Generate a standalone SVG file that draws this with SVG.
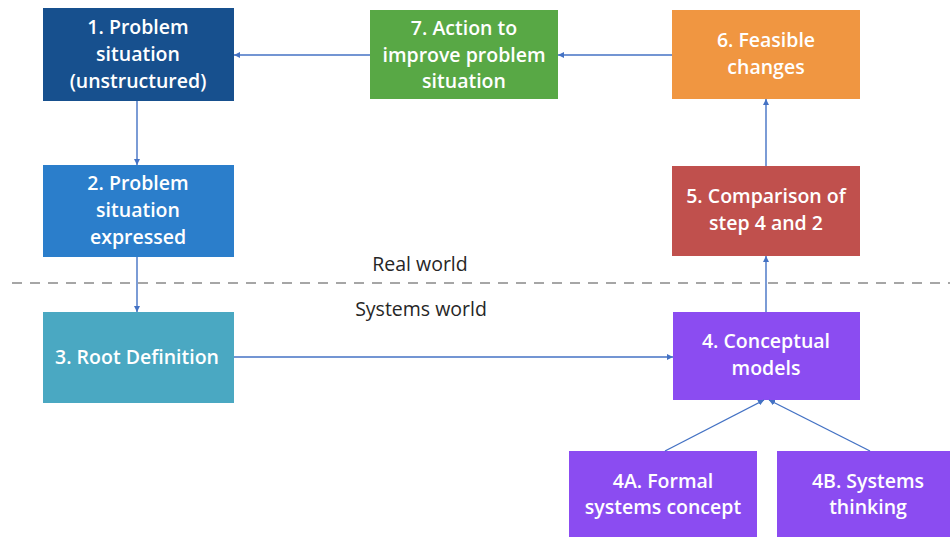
<svg xmlns="http://www.w3.org/2000/svg" width="950" height="537" viewBox="0 0 950 537">
<defs>
<marker id="ah" viewBox="0 0 10 10" refX="10" refY="5" markerWidth="6" markerHeight="6" orient="auto" markerUnits="userSpaceOnUse">
<path d="M0,0 L10,5 L0,10 z" fill="#4472c4"/>
</marker>
</defs>
<style>
.box{stroke:none}
.t{font-family:"Open Sans","Liberation Sans",sans-serif;font-size:19.5px;font-weight:600;fill:#ffffff;text-anchor:middle}
.lbl{font-family:"Open Sans","Liberation Sans",sans-serif;font-size:19.5px;fill:#262626;text-anchor:middle}
.c{stroke:#4472c4;stroke-width:1.4;fill:none;marker-end:url(#ah)}
</style>
<rect width="950" height="537" fill="#ffffff"/>
<line x1="12" y1="283" x2="950" y2="283" stroke="#a6a6a6" stroke-width="2" stroke-dasharray="10,8"/>
<text class="lbl" x="420" y="271">Real world</text>
<text class="lbl" x="421" y="316">Systems world</text>
<g id="n1"><rect class="box" x="43" y="8" width="191" height="93" fill="#17508e"/>
<text class="t" x="138" y="34">1. Problem</text><text class="t" x="138" y="61">situation</text><text class="t" x="138" y="88">(unstructured)</text></g>
<g id="n2"><rect class="box" x="43" y="165" width="191" height="92" fill="#2b7ecb"/>
<text class="t" x="138" y="190">2. Problem</text><text class="t" x="138" y="217">situation</text><text class="t" x="138" y="244">expressed</text></g>
<g id="n3"><rect class="box" x="43" y="312" width="191" height="91" fill="#4aa8c2"/>
<text class="t" x="137" y="364">3. Root Definition</text></g>
<g id="n7"><rect class="box" x="370" y="10" width="188" height="89" fill="#58a845"/>
<text class="t" x="464" y="35">7. Action to</text><text class="t" x="464" y="62">improve problem</text><text class="t" x="464" y="88">situation</text></g>
<g id="n6"><rect class="box" x="672" y="10" width="188" height="89" fill="#f09641"/>
<text class="t" x="766" y="47">6. Feasible</text><text class="t" x="766" y="74">changes</text></g>
<g id="n5"><rect class="box" x="672" y="166" width="188" height="90" fill="#c0504d"/>
<text class="t" x="766" y="203">5. Comparison of</text><text class="t" x="766" y="230">step 4 and 2</text></g>
<g id="n4"><rect class="box" x="673" y="312" width="187" height="88" fill="#8b4cf1"/>
<text class="t" x="766" y="348">4. Conceptual</text><text class="t" x="766" y="375">models</text></g>
<g id="n4a"><rect class="box" x="569" y="451" width="188" height="90" fill="#8b4cf1"/>
<text class="t" x="663" y="488">4A. Formal</text><text class="t" x="663" y="514">systems concept</text></g>
<g id="n4b"><rect class="box" x="777" y="451" width="180" height="90" fill="#8b4cf1"/>
<text class="t" x="868" y="488">4B. Systems</text><text class="t" x="868" y="514">thinking</text></g>
<g id="connectors">
<line class="c" x1="137" y1="101" x2="137" y2="165"/>
<line class="c" x1="137" y1="257" x2="137" y2="312"/>
<line class="c" x1="370" y1="55" x2="234" y2="55"/>
<line class="c" x1="672" y1="55" x2="558" y2="55"/>
<line class="c" x1="766" y1="166" x2="766" y2="99"/>
<line class="c" x1="766" y1="312" x2="766" y2="256"/>
<line class="c" x1="234" y1="357" x2="673" y2="357"/>
<line class="c" x1="665" y1="451" x2="764" y2="400"/>
<line class="c" x1="870" y1="451" x2="769" y2="400"/>
</g>
</svg>
